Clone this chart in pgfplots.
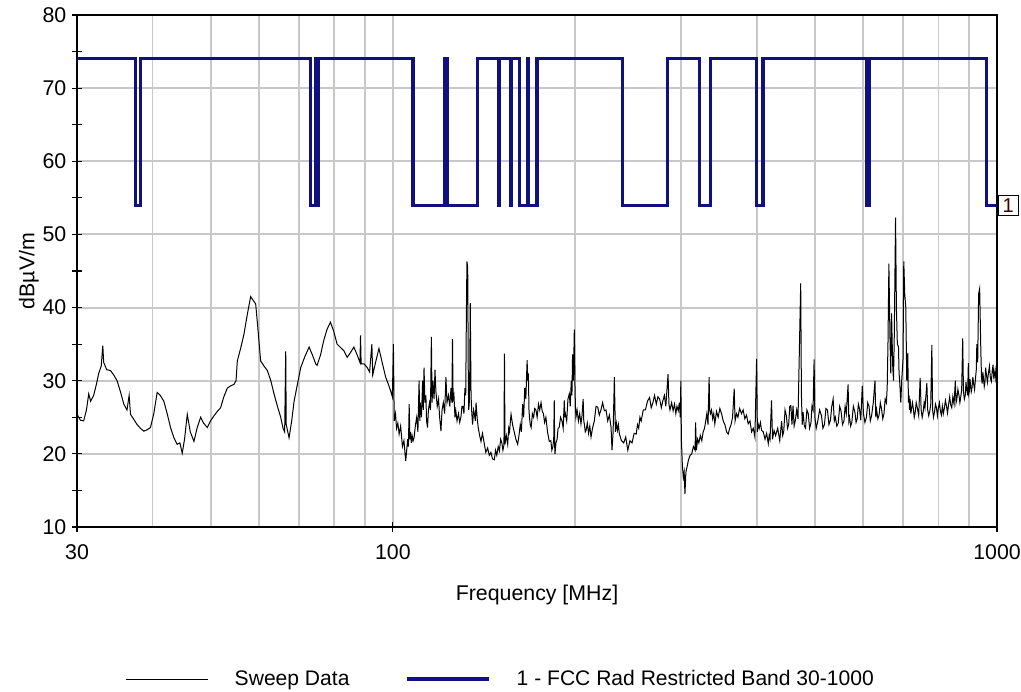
\documentclass[border=0pt]{standalone}
\usepackage{pgfplots}
\pgfplotsset{compat=1.18}
\usepackage{fontspec}
\setmainfont{Liberation Sans}
\definecolor{limitblue}{RGB}{16,16,128}
\definecolor{gridgray}{RGB}{200,200,200}
\begin{document}
\begin{tikzpicture}
\path[use as bounding box] (-57.75pt,-123.75pt) rectangle (708pt,395.25pt);
\begin{axis}[
  at={(0,0)}, anchor=south west,
  scale only axis, width=690pt, height=384pt,
  xmode=log, xmin=30, xmax=1000, ymin=10, ymax=80,
  xtick={30,100,1000}, xticklabels={30,100,1000},
  minor xtick={40,50,60,70,80,90,200,300,400,500,600,700,800,900},
  ytick={10,20,30,40,50,60,70,80}, yticklabels={10,20,30,40,50,60,70,80},
  minor ytick={15,25,35,45,55,65,75},
  xmajorgrids, xminorgrids, ymajorgrids,
  grid style={gridgray, line width=1.4pt},
  minor grid style={gridgray, line width=1.4pt},
  tick pos=left,
  tick align=center, major tick length=7pt, minor tick length=7pt,
  minor x tick style={draw=none},
  tick style={black, line width=0.8pt},
  axis line style={black, line width=0.9pt},
  ticklabel style={font=\fontsize{16pt}{18pt}\selectfont},
  xticklabel style={yshift=-6pt},
  yticklabel style={xshift=-1pt},
  xlabel={Frequency [MHz]}, ylabel={dBµV/m},
  label style={font=\fontsize{16pt}{18pt}\selectfont},
  xlabel style={yshift=-12pt},
  ylabel style={yshift=-4pt},
  clip=true,
  legend columns=2,
  legend style={draw=none, fill=none, at={(0.461,-0.297)}, anchor=center,
    font=\fontsize{15.8pt}{17pt}\selectfont,
    /tikz/every even column/.append style={column sep=40pt}},
  legend cell align=left,
  legend image code/.code={\draw[#1] (0pt,0pt) -- (61.5pt,0pt); \path (79pt,0pt);},
]
\addplot[black, line width=0.75pt] coordinates {
(30,25.4)(30.4,24.6)(30.77,24.5)(31.1,26)(31.37,28.2)(31.6,27.2)(31.97,28)(32.3,29.5)(32.59,31)(32.9,32)(33.1,34.8)(33.21,32.5)(33.6,31.5)(34.07,31.4)(34.5,30.8)(34.95,30)(35.4,28.5)(35.86,26.8)(36.3,26)(36.6,28)(36.79,25.4)(37.2,24.8)(37.73,24)(38.2,23.5)(38.71,23.1)(39.2,23.3)(39.7,23.6)(40.2,25.5)(40.72,28.4)(41.2,28)(41.77,27.2)(42.3,25.5)(42.85,23.6)(43.4,22.2)(43.95,21.3)(44.4,21.5)(44.8,20.1)(45.2,22)(45.67,25.4)(46.2,23)(46.85,21.7)(47.4,23.5)(48.05,25)(48.6,24.2)(49.29,23.6)(49.9,24.5)(50.56,25.2)(51.2,25.8)(51.86,26.3)(52.5,27.8)(53.21,29)(53.9,29.3)(54.57,29.5)(55,30)(55.27,32.7)(56,34.5)(56.7,36.4)(57.4,39)(58.15,41.5)(58.7,41)(59.28,40.5)(59.8,37)(60.41,32.7)(61.2,32)(61.97,31.4)(62.8,30)(63.57,28.2)(64.4,26.5)(65.21,25)(65.8,23.5)(66.2,23)(66.47,34)(66.6,24)(67.32,22.2)(68,24.5)(68.62,27.2)(69.5,29.5)(70.39,31.8)(71.5,33.3)(72.67,34.6)(73.6,33.5)(74.53,32.3)
(74.91,32.1)(75.9,33.5)(76.84,35.5)(77.8,37)(78.83,38)(79.8,36.8)(80.85,35)(82,34.5)(82.95,34.1)(84.01,33.2)(85,33.8)(86.18,34.6)(87.3,33.5)(88.2,32.5)(88.4,36.2)(88.6,32.3)(89.6,32.3)(90.68,31.8)(91.5,31.2)(92.3,35)(92.6,30.8)(93.6,32.5)(94.82,34.4)(96,32.5)(97.27,30.5)(98.3,29.5)(99.15,28.6)(99.8,27.8)
(100.2,35)(100.5,24.5)(101,25.5)(101.4,23.5)(101.9,24.2)(102.4,22.7)(103,23.8)(103.7,21)(104.3,21.8)(105,19)(105.4,20.5)(105.8,22)(106.1,21)(106.4,26.8)(106.7,22)(106.9,23)(107.3,21.5)(107.6,22.5)(108,21.8)(108.4,22.2)(109,24)(109.5,25)(110,23)(110.5,30)(110.8,24.5)(111,27)(111.5,25)(112,30)(112.3,26)(112.6,31.8)(113,27)(113.4,28)(113.7,24.5)(114.1,23.6)(114.5,26)(115,27)(115.4,26)(115.8,36)(116.1,27)(116.5,30)(117,27.5)(117.4,31.5)(117.8,28.6)(118.4,26.5)(119,27.5)(119.5,25)(120.1,23.1)(120.6,26)(121.2,27)(121.8,25.5)(122.4,30.5)(122.9,27)(123.6,28)(124.2,26.5)(124.8,29)(125.2,27)(125.5,35.7)(125.8,27.5)(126.2,28)(126.7,25)(127.1,25.9)(127.7,24.5)(128.4,25.5)(129,24.3)(129.6,25)(130.1,26.5)(130.6,26.5)(131.1,25.5)(131.6,29)(132,28)(132.3,38)(132.6,46.3)(133,45.5)(133.3,30)(133.5,26)(133.8,27)(134,30)(134.3,40.6)(134.7,28)(135.1,25.5)(135.5,24)(136,26)(136.4,25.5)(136.9,24.5)(137.3,27)(137.9,24.8)(138.5,23.5)(139.2,22.5)(139.9,21.7)(140.7,22.8)(141.6,21.5)(142.5,20.2)(143.5,20.8)(144.4,19.8)(145.3,20.2)(146.2,19.3)(147.2,19.2)(147.9,20.5)(148.6,19.8)(149.4,21)(150.1,20.4)(150.8,22)(151.5,21.5)(152.1,20.5)(152.7,21.2)(153,33.7)(153.3,21.3)(154.1,22.5)(154.9,21.3)(155.5,23.5)(156,23)(156.5,24.5)(156.9,25.4)(157.8,24)(158.8,23)(159.8,22)(160.9,21.3)(161.7,22.5)(162.5,24)(163.2,23)(164,26.8)(164.6,25)(165.3,29)(166,27.5)(166.8,32.8)(167.2,30)(167.6,31)(168,26)(168.3,25)(168.8,24)(169.4,23.6)(170.2,25.5)(171,25)(171.7,26.2)(172.5,26)(173.3,25)(174.2,26.8)(175,26)(175.9,27)(176.7,25.8)(177.5,25.5)(178.3,24.3)(179.2,25)(180.3,23)(181.5,21.7)
(182.6,21.8)(183.3,20.5)(184,21)(184.6,22)(185,27.3)(185.3,21)(185.5,20)(186.2,21.5)(187,22)(187.7,23.5)(188.5,23.6)(189.5,25)(190.5,24.5)(191.4,23.5)(192.2,27.3)(192.6,25)(193,25.5)(194,24.5)(194.9,27.5)(195.9,28.2)(196.6,26.5)(197.4,30)(197.9,28)(198.4,33.6)(199,30)(199.7,37)(200.2,29)(200.5,26.5)(200.9,25)(201.8,26)(202.8,24.5)(203.8,25.5)(204.8,24.1)(205.6,25.2)(206.5,27.5)(207,24.5)(207.5,24)(208.2,23)(208.8,23.2)(209.8,24.2)(210.8,22.8)(211.8,23.8)(212.8,22.3)(214,23.5)(215.5,24.5)(216.9,26.5)(218.3,26.4)(219.6,25.3)(221,26)(222.4,27)(223.9,25.9)(225.3,26)(226.8,24.5)(228.2,25.3)(229.7,23.6)(230.5,20.5)(231.5,23)(232.6,30.5)(233.5,23)(234.4,24.2)(235.3,23.2)(236.2,24)(237.1,22.7)(239,21.8)(241,21.5)(242.9,22.3)(244.8,20.5)(246.8,21.8)(248.8,21.5)(250.8,22.8)(252.8,22.7)(254,24)(255.2,23.5)(256.4,25)(257.6,24.5)(259.7,26)(261.8,26)(263.9,27.2)(266,27.7)(267.7,26.3)(269.4,27)(271.1,28)(272.9,26.8)(274.6,27.8)(276.4,27.5)(278.2,26.3)(279.9,27.3)(281.5,28)(283,26.5)(285.4,30.9)(286.4,26.8)(287.5,26)(289.3,27)(291,25.9)(292.5,26.8)(294,25.5)(295.3,26.5)(296.7,25.9)(298,27)(299,25)(299.7,30)(300.3,22)(301.4,18.5)(302.5,16.8)(303.5,17.5)(304.4,14.5)(305.5,17.5)(307,18.3)(308.4,19.1)(310.4,19.8)(312.4,20)(314.4,21)(316.4,20.5)(317,24.3)(318,20.5)(319.5,22)(321,21.5)(322.8,22.5)(324.6,21.8)(326.3,23)(328,23.5)(329.5,24.5)(330.9,25.5)(332.4,24)(333.8,30.5)(334.5,26)(335.5,25.5)(336.9,26)(338.3,24.8)(339.7,25.5)(341.1,24.1)(343.3,25.8)(345.5,25)(347.7,26.2)(350,25.5)(352.2,24.5)(354.5,24)(356.8,23)(359,22.7)(361,23.5)(363,24)(365,25)(367.3,28.9)(368.5,24.5)(370.5,25.5)(372.5,25)(375,26.2)(377.7,25.5)(380,26)(382.5,24.8)(385,25.3)(387.4,24.1)(390,24.5)(392.5,23)(395,23.5)(397.5,22.3)(400,33)(401.2,23)(402.6,24)(404,23.5)(405.8,24.3)(407.7,23.2)(410.3,23)(413,22)(415.6,22.8)(418.2,21.4)(419.6,22.5)(421,22)(423.4,27.3)(425,22)(427.5,23.2)(430,22.5)(433.5,23.5)(436.9,21.8)
(440,24.5)(441.8,22.5)(443.5,23)(445.8,26)(448.1,25.2)(450,23.5)(452,24)(453.9,26.5)(455.8,26.6)(457.7,24)(459.6,26.6)(461.5,23.8)(463.5,24.5)(466,26)(468.4,24.8)(470.5,33)(473.2,43.3)(474.5,28)(476,24)(477.5,25.7)(479.8,23.8)(482,23.5)(484.5,26)(487,25.5)(489.5,23.5)(492,24.2)(494,26.5)(496,26)(498,32.9)(499.5,25)(502,23.5)(505,24.5)(508.6,26)(512.2,25.2)(515,23.5)(518,24)(521,26.2)(524,26)(527,24)(530,24.6)(532.7,26.5)(535.5,27.5)(537.8,24.5)(540,25)(543,23.8)(546,24.2)(549,26.5)(552,25.8)(555,24)(558,24.5)(560.5,26.5)(563,25.5)(566.9,29.5)(568.5,24.5)(570,25)(572.5,23.8)(575,24.3)(578.4,26.5)(581.8,25.7)(584.4,24.3)(587,24.8)(589.5,26.8)(592,26.2)(595,24.6)(598.4,29.3)(601,25.5)(604.5,24.3)(608,25)(611,27)(614,26.5)(617,24.5)(620,25.2)(624,27)(628.1,30)(630,25)(632,26)(635,24.8)(638,25.3)(641,27)(644.1,26.1)(647,24.8)(650,25.5)(653,27.5)(656,27)(658,29)(660,35)(662.3,46)(665,36)(667,31)(669.1,39.2)(672,32)(674,30)(676,36)(679.3,52.3)(681.5,40)(684,35)(686.9,34.7)(688.5,31)(690,30)(693,27)(695.6,30.2)(699,33)(701,46.3)(703.5,41.9)(706.4,40)(709,30)(711.8,33.8)(713.5,27)(715,28)(716.5,26)(718.2,27.5)
(720,25.5)(722,26.2)(724.5,27)(727,26.2)(729.5,25)(732,25.6)(735,27)(738,26.3)(742,25.2)(746.2,30.4)(749,26)(752,25)(755,25.8)(757.5,27)(760,26.3)(765.4,29.7)(768,26)(771,25.2)(774,25.8)(777,26.8)(780.2,34.9)(782.5,26)(785,25)(788,25.7)(791,26.8)(794,26.3)(797,25.2)(799.6,26.2)(803,27)(806,25.8)(809,25.3)(812,26.5)(815,25.5)(818,26.2)(821.5,27.3)(825,26.5)(828,25.6)(831.6,26.8)(835,27.8)(838,26.7)(841.5,26.3)(845,27.8)(849,26.8)(853.1,30)(855.5,27)(858,27.5)(861.5,28.8)(865,28)(868,27)(871,27.8)(874,28.8)(877.4,35.8)(880,28.5)(883,27.5)(886,28)(888.5,29.8)(891,28.8)(894,28)(896.5,32.4)(898,28.2)(900,28.6)(902,30.2)(904,29.4)(906.5,28.5)(909,29)(912,30.5)(915,29.5)(918,28.8)(921,30.2)(924,31.5)(926,35)(929,32.5)(932.4,41.9)(936,42.6)(939.9,34.7)(942.5,30.5)(945,29.6)(947.5,31.2)(950,30.2)(952.5,29.2)(955,29.8)(957.5,31.8)(960,31)(964,29.8)(967.8,31)(971.5,32)(975,30.4)(978.5,29.9)(982,31.3)(985,32.2)(988,30.2)(990.5,31)(992.8,31.5)(996,30)(1000,30.4)
};
\addlegendentry{Sweep Data}
\addplot[limitblue, line width=2.4pt, line join=miter] coordinates {
(30,74)(37.5,74)(37.5,54)(38.25,54)(38.25,74)(73,74)(73,54)(74.6,54)(74.6,74)(74.8,74)(74.8,54)(75.2,54)(75.2,74)(108,74)(108,54)(121.94,54)(121.94,74)(123,74)(123,54)(138,54)(138,74)(149.9,74)(149.9,54)(150.05,54)(150.05,74)(156.52475,74)(156.52475,54)(156.52525,54)(156.52525,74)(156.7,74)(156.7,54)(156.9,54)(156.9,74)(162.0125,74)(162.0125,54)(167.17,54)(167.17,74)(167.72,74)(167.72,54)(173.2,54)(173.2,74)(240,74)(240,54)(285,54)(285,74)(322,74)(322,54)(335.4,54)(335.4,74)(399.9,74)(399.9,54)(410,54)(410,74)(608,74)(608,54)(614,54)(614,74)(960,74)(960,54)(1000,54)
};
\addlegendentry{1 - FCC Rad Restricted Band 30-1000}
\end{axis}
\node[draw=black, line width=0.6pt, fill=white, inner xsep=3.5pt, inner ysep=2.5pt, anchor=west, text=black!75!red, font=\fontsize{15pt}{16pt}\selectfont] at (690.5pt,241.37pt) {1};
\end{tikzpicture}
\end{document}
